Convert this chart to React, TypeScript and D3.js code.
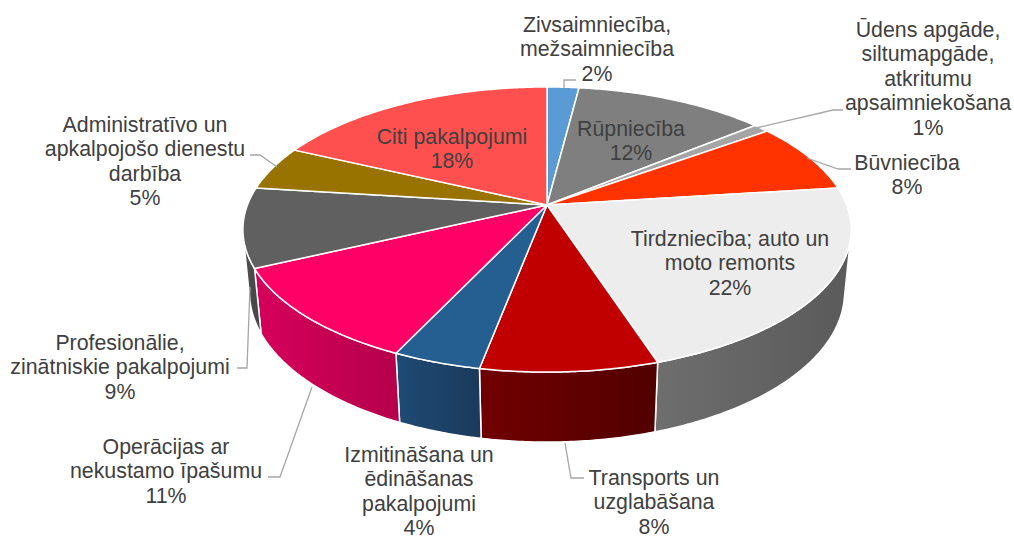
import React from "react";
import * as d3 from "d3";

// ---------- data ----------
const categories: string[] = [
  "Zivsaimniecība, mežsaimniecība",
  "Rūpniecība",
  "Ūdens apgāde, siltumapgāde, atkritumu apsaimniekošana",
  "Būvniecība",
  "Tirdzniecība; auto un moto remonts",
  "Transports un uzglabāšana",
  "Izmitināšana un ēdināšanas pakalpojumi",
  "Operācijas ar nekustamo īpašumu",
  "Profesionālie, zinātniskie pakalpojumi",
  "Administratīvo un apkalpojošo dienestu darbība",
  "Citi pakalpojumi",
];
const values: number[] = [2, 12, 1, 8, 22, 8, 4, 11, 9, 5, 18];
const labelLines: string[][] = [
  ["Zivsaimniecība,", "mežsaimniecība"],
  ["Rūpniecība"],
  ["Ūdens apgāde,", "siltumapgāde,", "atkritumu", "apsaimniekošana"],
  ["Būvniecība"],
  ["Tirdzniecība; auto un", "moto remonts"],
  ["Transports un", "uzglabāšana"],
  ["Izmitināšana un", "ēdināšanas", "pakalpojumi"],
  ["Operācijas ar", "nekustamo īpašumu"],
  ["Profesionālie,", "zinātniskie pakalpojumi"],
  ["Administratīvo un", "apkalpojošo dienestu", "darbība"],
  ["Citi pakalpojumi"],
];

// ---------- styles ----------
const topColors = [
  "#5B9BD5", "#7F7F7F", "#A5A5A5", "#FF3300", "#EDEDED", "#C00000",
  "#255E91", "#FF0066", "#606060", "#997300", "#FF5050",
];
const sideColorsA = [
  "#3F6E99", "#5A5A5A", "#777777", "#B32400", "#6E6E6E", "#700000",
  "#1F4B75", "#D6005B", "#505050", "#6E5300", "#B83A3A",
];
const sideColorsB = [
  "#355D82", "#4C4C4C", "#666666", "#991F00", "#5A5A5A", "#520000",
  "#1A3A5B", "#B5004B", "#444444", "#5E4700", "#A03232",
];

// label layout: center x, first baseline y, leader polyline (from slice to label)
const labelLayout: { x: number; y: number; leader?: [number, number][] }[] = [
  { x: 597, y: 32, leader: [[564, 88], [564, 80], [576, 80]] },
  { x: 631, y: 136 },
  { x: 928, y: 37, leader: [[756, 128], [833, 110], [843, 110]] },
  { x: 907, y: 170, leader: [[807, 158], [838, 169], [851, 169]] },
  { x: 730, y: 246 },
  { x: 654, y: 485, leader: [[565, 443], [571, 478], [584, 478]] },
  { x: 419, y: 462 },
  { x: 166, y: 454, leader: [[312, 387], [280, 477], [268, 477]] },
  { x: 120, y: 350, leader: [[250, 287], [247, 368], [237, 368]] },
  { x: 145, y: 132, leader: [[277, 167], [260, 155], [250, 155]] },
  { x: 452, y: 144 },
];

const W = 1014;
const H = 536;
const LINE_H = 24.4;
const FONT = 21.33;

// 3D projection of the pie (tilted disc, perspective camera)
const SIN_T = 0.4618;
const COS_T = Math.sqrt(1 - SIN_T * SIN_T);
const DIST = 1;
const RAD = 0.194;
const THICK = 0.046;
const FOCAL = 1544;
const CX = 547;
const CY = 205;

function project(theta: number, r: number, y: number): [number, number] {
  const x = r * Math.sin(theta);
  const z = r * Math.cos(theta);
  const Y = z * SIN_T + y * COS_T;
  const Z = DIST + z * COS_T - y * SIN_T;
  return [CX + (FOCAL * x) / Z, CY - (FOCAL * Y) / Z];
}

function arcPts(a0: number, a1: number, y: number): [number, number][] {
  const n = Math.max(2, Math.ceil(Math.abs(a1 - a0) / 0.01));
  const pts: [number, number][] = [];
  for (let i = 0; i <= n; i++) {
    pts.push(project(a0 + ((a1 - a0) * i) / n, RAD, y));
  }
  return pts;
}

const toPath = (pts: [number, number][]) =>
  "M" + pts.map((p) => p[0].toFixed(2) + "," + p[1].toFixed(2)).join("L") + "Z";

export default function App() {
  const pie = d3
    .pie<number>()
    .sort(null)
    .value((d) => d)
    .startAngle(0)
    .endAngle(2 * Math.PI);
  const arcs = pie(values);

  // visible range of the outer wall
  const vis0 = Math.acos(-RAD / (DIST * COS_T));
  const vis1 = 2 * Math.PI - vis0;

  const walls = arcs
    .map((a, i) => {
      const s = Math.max(a.startAngle, vis0);
      const e = Math.min(a.endAngle, vis1);
      if (e <= s) return null;
      const top = arcPts(s, e, 0);
      const bot = arcPts(e, s, -THICK);
      const all = top.concat(bot);
      const xs = all.map((p) => p[0]);
      return {
        i,
        d: toPath(all),
        x0: d3.min(xs) as number,
        x1: d3.max(xs) as number,
      };
    })
    .filter((w) => w !== null) as { i: number; d: string; x0: number; x1: number }[];

  const center = project(0, 0, 0);
  const tops = arcs.map((a, i) => {
    const pts = [center as [number, number]].concat(arcPts(a.startAngle, a.endAngle, 0));
    return { i, d: toPath(pts) };
  });

  return (
    <svg
      width={W}
      height={H}
      style={{ position: "absolute", left: 0, top: 0, background: "#fff" }}
      fontFamily="'Liberation Sans', Arial, sans-serif"
    >
      <defs>
        {walls.map((w) => (
          <linearGradient
            key={w.i}
            id={"wg" + w.i}
            gradientUnits="userSpaceOnUse"
            x1={w.x0}
            x2={w.x1}
            y1={0}
            y2={0}
          >
            <stop offset="0" stopColor={sideColorsA[w.i]} />
            <stop offset="1" stopColor={sideColorsB[w.i]} />
          </linearGradient>
        ))}
      </defs>
      <g>
        {walls.map((w) => (
          <path
            key={w.i}
            d={w.d}
            fill={`url(#wg${w.i})`}
            stroke="#fff"
            strokeWidth={1.5}
            strokeLinejoin="round"
          />
        ))}
      </g>
      <g>
        {tops.map((t) => (
          <path
            key={t.i}
            d={t.d}
            fill={topColors[t.i]}
            stroke="#fff"
            strokeWidth={1.5}
            strokeLinejoin="round"
          />
        ))}
      </g>
      <g fill="none" stroke="#A6A6A6" strokeWidth={1.3}>
        {labelLayout.map((l, i) =>
          l.leader ? (
            <polyline key={i} points={l.leader.map((p) => p.join(",")).join(" ")} />
          ) : null
        )}
      </g>
      <g fill="#404040" fontSize={FONT} textAnchor="middle">
        {labelLayout.map((l, i) => {
          const lines = labelLines[i].concat([values[i] + "%"]);
          return (
            <text key={i} x={l.x} y={l.y} aria-label={categories[i]}>
              {lines.map((s, k) => (
                <tspan key={k} x={l.x} y={l.y + k * LINE_H}>
                  {s}
                </tspan>
              ))}
            </text>
          );
        })}
      </g>
    </svg>
  );
}
